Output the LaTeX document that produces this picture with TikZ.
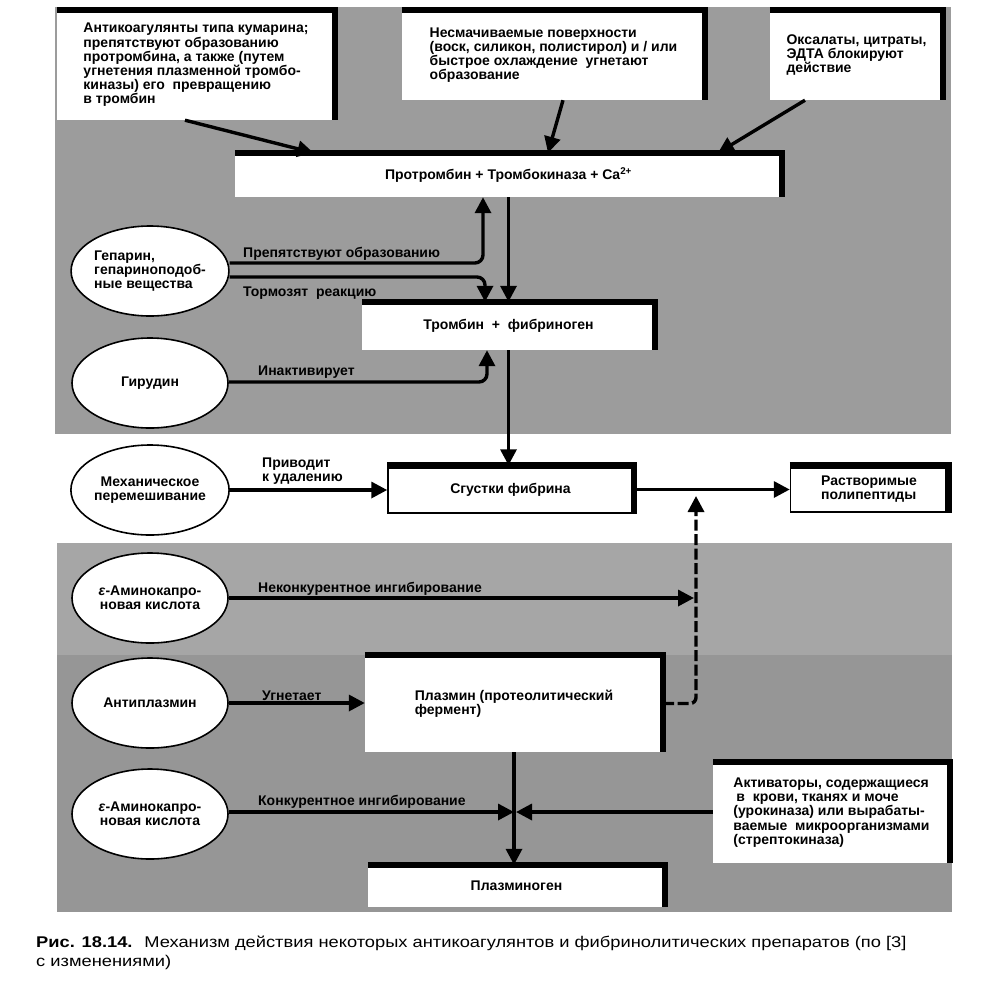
\documentclass[tikz,border=0pt]{standalone}
\usepackage{fontspec}
\setmainfont{Liberation Sans}
\newfontfamily\capfont[FakeStretch=1.18]{Liberation Sans}
\usetikzlibrary{shapes.geometric,arrows.meta,calc}
\definecolor{bgA}{RGB}{156,156,156}
\definecolor{bgB}{RGB}{166,166,166}
\definecolor{bgC}{RGB}{150,150,150}
\begin{document}
\begin{tikzpicture}[x=1pt,y=-1pt,
  txt/.style={font=\fontsize{14}{14.2}\selectfont\bfseries},
  box/.style={rectangle, fill=white, inner sep=0pt, txt, align=left},
  framed/.style={box, draw, line width=1.5pt},
  heavy/.style={line width=6.5pt, line cap=butt, line join=miter},
  oval/.style={ellipse, draw, line width=1.6pt, fill=white, minimum width=156pt, minimum height=90pt, inner sep=0pt, txt, align=center},
  arr/.style={line width=3.4pt, -{Triangle[length=16pt,width=16pt]}},
  lab/.style={txt, inner sep=0pt, anchor=base west, align=left}]
\useasboundingbox (0,0) rectangle (1000,983);
\fill[white] (0,0) rectangle (1000,983);
\fill[bgA] (55,7) rectangle (951,434);
\fill[bgB] (57,543) rectangle (952,655);
\fill[bgC] (57,655) rectangle (952,912);

% top boxes
\node[box, minimum width=278pt, minimum height=110pt] (A) at (196,65) {Антикоагулянты типа кумарина;\\препятствуют образованию\\протромбина, а также (путем\\угнетения плазменной тромбо-\\киназы) его \ превращению\\в тромбин};
\node[box, minimum width=303pt, minimum height=90pt] (B) at (553.5,55) {Несмачиваемые поверхности\\(воск, силикон, полистирол) и / или\\быстрое охлаждение \ угнетают\\образование};
\node[box, minimum width=173pt, minimum height=90pt] (C) at (856.5,55) {Оксалаты, цитраты,\\ЭДТА блокируют\\действие};
\node[box, minimum width=547pt, minimum height=44pt] (D) at (508.5,175) {Протромбин + Тромбокиназа + Ca\textsuperscript{2+}};
\node[box, minimum width=293pt, minimum height=48pt] (E) at (508.5,326) {Тромбин~~+~~фибриноген};
\node[framed, minimum width=245pt, minimum height=47pt] (F) at (510.5,489.5) {Сгустки фибрина};
\node[framed, minimum width=157pt, minimum height=46pt] (G) at (869,489) {Растворимые\\полипептиды};
\node[box, minimum width=298pt, minimum height=97pt] (H) at (514,703.5) {Плазмин (протеолитический\\фермент)};
\node[box, minimum width=237pt, minimum height=101pt] (I) at (831.5,812.5) {Активаторы, содержащиеся\\\hspace{3pt}в \ крови, тканях и моче\\(урокиназа) или вырабаты-\\ваемые \ микроорганизмами\\(стрептокиназа)};
\node[box, minimum width=297pt, minimum height=42pt] (J) at (516.5,886) {Плазминоген};

\foreach \n in {A,B,C,D,E,F,G,H,I,J}
  \draw[heavy] (\n.north west) -- (\n.north east) -- (\n.south east);

% ellipses
\node[oval, align=left] (hep) at (150,271) {Гепарин,\\гепариноподоб-\\ные вещества};
\node[oval] (hir) at (150,383) {Гирудин};
\node[oval] (mech) at (150,490) {Механическое\\перемешивание};
\node[oval] (eps1) at (150,598) {\textit{ε}-Аминокапро-\\новая кислота};
\node[oval] (apl) at (150,703) {Антиплазмин};
\node[oval] (eps2) at (150,814) {\textit{ε}-Аминокапро-\\новая кислота};

% junction coordinates
\coordinate (dashtop) at (696,496);
\coordinate (cross) at (515,812);

% connectors
\draw[arr] ([xshift=-11pt]A.south) -- ([xshift=-195pt]D.north);
\draw[arr] ([xshift=9.5pt]B.south) -- ([xshift=39.5pt]D.north);
\draw[arr] ([xshift=-51.5pt]C.south) -- ([xshift=209.5pt]D.north);
\draw[arr] (D.south) -- (D.south |- E.north);
\draw[arr, rounded corners=8pt] ([yshift=8pt]hep.east) -| ([xshift=-25.5pt]D.south);
\draw[arr, rounded corners=8pt] ([yshift=-6pt]hep.east) -| ([xshift=-23.5pt]E.north);
\draw[arr, rounded corners=8pt] ([yshift=1pt]hir.east) -| ([xshift=-21.5pt]E.south);
\draw[arr] (E.south) -- (E.south |- F.north);
\draw[arr] (mech.east) -- (mech.east -| F.west);
\draw[arr] (F.east) -- (F.east -| G.west);
\draw[arr, dash pattern=on 11pt off 3.5pt, rounded corners=6pt] (H.east) -| (dashtop);
\draw[arr] (eps1.east) -- ([xshift=-2pt]eps1.east -| dashtop);
\draw[arr] (apl.east) -- (apl.east -| H.west);
\draw[arr] (H.south) -- (H.south |- J.north);
\draw[arr] (eps2.east |- cross) -- ([xshift=-1pt]cross);
\draw[arr] (I.west |- cross) -- ([xshift=1pt]cross);

% labels
\node[lab] (l1) at (243,257) {Препятствуют образованию};
\node[lab] (l2) at (243,296) {Тормозят \ реакцию};
\node[lab] (l3) at (258,375) {Инактивирует};
\node[lab, anchor=south west] (l4) at (262,485) {Приводит\\к удалению};
\node[lab] (l5) at (258,592) {Неконкурентное ингибирование};
\node[lab] (l6) at (262,700) {Угнетает};
\node[lab] (l7) at (258,805) {Конкурентное ингибирование};

% caption
\node[anchor=north west, inner sep=0pt, align=left, font=\fontsize{15.5}{19}\capfont] (cap) at (36,936) {\textbf{Рис. 18.14.} \ Механизм действия некоторых антикоагулянтов и фибринолитических препаратов (по [3]\\с изменениями)};
\end{tikzpicture}
\end{document}
